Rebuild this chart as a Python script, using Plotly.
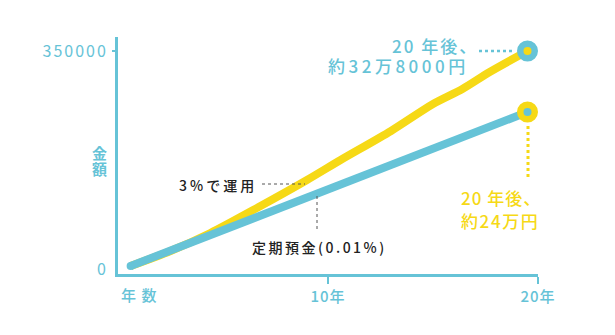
import plotly.graph_objects as go

# ---- data ----
years_invest = [0.6, 2.5, 4.4, 6.7, 9.0, 10.6, 13.0, 15.0, 16.4, 17.7, 19.5]
value_invest = [4800, 28900, 57800, 99500, 142900, 175000, 221600, 264900, 289000, 316300, 350000]
years_deposit = [0.6, 10, 19.5]
value_deposit = [4800, 127700, 252000]
x_tickvals = [10, 20]
x_ticktext = ["10年", "20年"]
y_tickvals = [0, 350000]
y_ticktext = ["0", "350000"]

BLUE = "#66C3D7"
YELLOW = "#F6D916"
DARK = "#222222"
FONT = "Noto Sans CJK JP"

W, H = 615, 335
L, R, T, B = 118, 538, 37, 274


def px(xp):
    return (xp - L) / (R - L)


def py(yp):
    return (B - yp) / (B - T)


def sp(text, ls):
    return f'<span style="letter-spacing:{ls}px">{text}</span>'


fig = go.Figure()
fig.add_trace(go.Scatter(x=years_invest, y=value_invest, mode="lines",
                         line=dict(color=YELLOW, width=8, shape="spline", smoothing=0.8),
                         hoverinfo="skip"))
fig.add_trace(go.Scatter(x=years_deposit, y=value_deposit, mode="lines",
                         line=dict(color=BLUE, width=8), hoverinfo="skip"))
# rounded start cap
fig.add_trace(go.Scatter(x=years_deposit[:1], y=value_deposit[:1], mode="markers",
                         marker=dict(color=BLUE, size=8), hoverinfo="skip"))
# end markers
fig.add_trace(go.Scatter(x=years_invest[-1:], y=value_invest[-1:], mode="markers",
                         marker=dict(color=YELLOW, size=14.5, line=dict(color=BLUE, width=6.5)),
                         hoverinfo="skip"))
fig.add_trace(go.Scatter(x=years_deposit[-1:], y=value_deposit[-1:], mode="markers",
                         marker=dict(color=BLUE, size=14.5, line=dict(color=YELLOW, width=6.5)),
                         hoverinfo="skip"))

shapes = [
    # y tick at 350000
    dict(type="line", xref="paper", yref="y", x0=px(112), x1=px(118), y0=350000, y1=350000,
         line=dict(color=BLUE, width=2)),
    # leader for top label
    dict(type="line", xref="paper", yref="paper", x0=px(479), x1=px(513), y0=py(51), y1=py(51),
         line=dict(color=BLUE, width=2.5, dash="dot")),
    # vertical leader for lower marker
    dict(type="line", xref="paper", yref="paper", x0=px(528), x1=px(528), y0=py(126), y1=py(179),
         line=dict(color=YELLOW, width=3, dash="dot")),
    # leader for 3%で運用
    dict(type="line", xref="paper", yref="paper", x0=px(262), x1=px(305), y0=py(184), y1=py(184),
         line=dict(color="#555555", width=1, dash="dot")),
    # leader for 定期預金
    dict(type="line", xref="paper", yref="paper", x0=px(317), x1=px(317), y0=py(196), y1=py(232),
         line=dict(color="#555555", width=1, dash="dot")),
]


def label(text, ls, x, y, anchor, size, color, weight=500):
    return dict(text=sp(text, ls), xref="paper", yref="paper", x=px(x), y=py(y),
                xanchor=anchor, yanchor="middle", showarrow=False,
                font=dict(family=FONT, size=size, color=color, weight=weight))


annotations = [
    label("20 年後、", 2, 480, 45, "right", 17, BLUE),
    label("約32万8000円", 3.5, 471, 66, "right", 17, BLUE),
    label("20 年後、", 1, 459, 198, "left", 17, YELLOW),
    label("約24万円", 1.6, 459, 220, "left", 17, YELLOW),
    label("3%で運用", 3, 259, 185, "right", 14, DARK),
    label("定期預金(0.01%)", 2.5, 250, 247, "left", 14, DARK),
    label("金", 0, 99, 152, "center", 15, BLUE, "bold"),
    label("額", 0, 99, 168, "center", 15, BLUE, "bold"),
    label("年 数", 1, 139, 294, "center", 15, BLUE),
]

fig.update_layout(
    width=W, height=H,
    margin=dict(l=L, r=W - R, t=T, b=H - B, pad=0),
    paper_bgcolor="white", plot_bgcolor="white",
    showlegend=False,
    font=dict(family=FONT, color=BLUE),
    shapes=shapes,
    annotations=annotations,
    xaxis=dict(range=[0, 20], showgrid=False, zeroline=False,
               showline=True, linecolor=BLUE, linewidth=3,
               tickvals=x_tickvals, ticktext=[sp(t, 1) for t in x_ticktext],
               ticks="outside", ticklen=7, tickwidth=2, tickcolor=BLUE,
               tickfont=dict(family=FONT, size=15, color=BLUE, weight=500), ticklabelstandoff=0,
               fixedrange=True),
    yaxis=dict(range=[-8028, 372477], showgrid=False, zeroline=False,
               showline=True, linecolor=BLUE, linewidth=3,
               tickvals=y_tickvals, ticktext=[sp(t, 2) for t in y_ticktext], ticks="",
               tickfont=dict(family=FONT, size=16, color=BLUE), ticklabelstandoff=4,
               fixedrange=True),
)

fig.write_html("out.html")
